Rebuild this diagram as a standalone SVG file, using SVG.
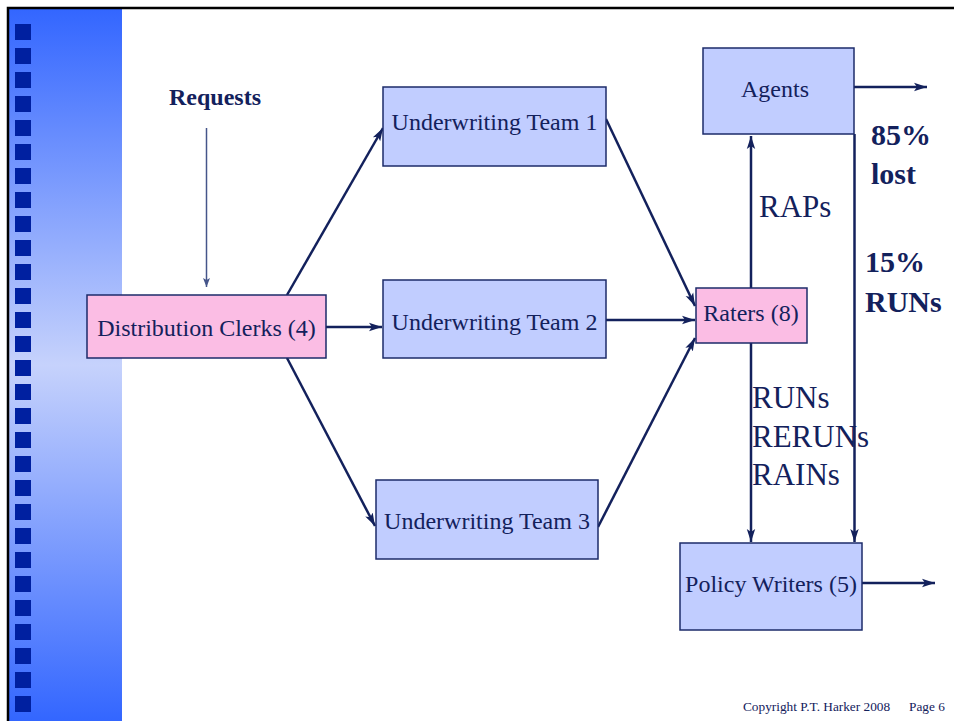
<svg xmlns="http://www.w3.org/2000/svg" width="954" height="721" viewBox="0 0 954 721">
<defs>
<linearGradient id="side" x1="0" y1="0" x2="0" y2="1">
<stop offset="0" stop-color="#3366ff"/>
<stop offset="0.5" stop-color="#c6d2fc"/>
<stop offset="1" stop-color="#3366ff"/>
</linearGradient>
<marker id="ah" markerUnits="userSpaceOnUse" markerWidth="14" markerHeight="10" viewBox="0 0 14 10" refX="13" refY="5" orient="auto">
<path d="M0,0.8 L13,5 L0,9.2 L3,5 Z" fill="#13215c"/>
</marker>
<marker id="ahs" markerUnits="userSpaceOnUse" markerWidth="10" markerHeight="10" viewBox="0 0 10 10" refX="9" refY="5" orient="auto">
<path d="M0,1.5 L9,5 L0,8.5 L2,5 Z" fill="#45558a"/>
</marker>
<style>
.box{fill:#c1cdff;stroke:#1c2b6a;stroke-width:1.5}
.pink{fill:#fbbde4;stroke:#1c2b6a;stroke-width:1.5}
.t{font-family:"Liberation Serif","Times New Roman",serif;fill:#13215c}
.c{text-anchor:middle;font-size:24px}
.b{font-weight:bold}
.conn line{stroke:#13215c;stroke-width:2.5;marker-end:url(#ah)}
.sq{fill:#0020a0}
</style>
</defs>
<rect width="954" height="721" fill="#ffffff"/>
<rect x="9" y="9" width="113" height="712" fill="url(#side)"/>
<path d="M8,721 V8 H954" fill="none" stroke="#000" stroke-width="2.5"/>
<g id="bullets">
<rect class="sq" x="15" y="24" width="16" height="16"/><rect class="sq" x="15" y="48" width="16" height="16"/><rect class="sq" x="15" y="72" width="16" height="16"/><rect class="sq" x="15" y="96" width="16" height="16"/><rect class="sq" x="15" y="120" width="16" height="16"/><rect class="sq" x="15" y="144" width="16" height="16"/><rect class="sq" x="15" y="168" width="16" height="16"/><rect class="sq" x="15" y="192" width="16" height="16"/><rect class="sq" x="15" y="216" width="16" height="16"/><rect class="sq" x="15" y="240" width="16" height="16"/><rect class="sq" x="15" y="264" width="16" height="16"/><rect class="sq" x="15" y="288" width="16" height="16"/><rect class="sq" x="15" y="312" width="16" height="16"/><rect class="sq" x="15" y="336" width="16" height="16"/><rect class="sq" x="15" y="360" width="16" height="16"/><rect class="sq" x="15" y="384" width="16" height="16"/><rect class="sq" x="15" y="408" width="16" height="16"/><rect class="sq" x="15" y="432" width="16" height="16"/><rect class="sq" x="15" y="456" width="16" height="16"/><rect class="sq" x="15" y="480" width="16" height="16"/><rect class="sq" x="15" y="504" width="16" height="16"/><rect class="sq" x="15" y="528" width="16" height="16"/><rect class="sq" x="15" y="552" width="16" height="16"/><rect class="sq" x="15" y="576" width="16" height="16"/><rect class="sq" x="15" y="600" width="16" height="16"/><rect class="sq" x="15" y="624" width="16" height="16"/><rect class="sq" x="15" y="648" width="16" height="16"/><rect class="sq" x="15" y="672" width="16" height="16"/><rect class="sq" x="15" y="696" width="16" height="16"/>
</g>
<g id="connectors" class="conn">
<line x1="206.5" y1="128" x2="206.5" y2="287" style="stroke:#45558a;stroke-width:1.5;marker-end:url(#ahs)"/>
<line x1="287" y1="295" x2="383" y2="128"/>
<line x1="326" y1="327" x2="382" y2="327"/>
<line x1="287" y1="358" x2="375" y2="526"/>
<line x1="606" y1="119" x2="695" y2="306"/>
<line x1="606" y1="320" x2="695" y2="320"/>
<line x1="598" y1="527" x2="695" y2="338"/>
<line x1="751" y1="288" x2="751" y2="136"/>
<line x1="751" y1="343" x2="751" y2="542"/>
<line x1="854.5" y1="134" x2="854.5" y2="542"/>
<line x1="854" y1="87" x2="927" y2="87"/>
<line x1="862" y1="583" x2="935" y2="583"/>
</g>
<g id="requests"><text class="t c b" x="215" y="105">Requests</text></g>
<g id="clerks"><rect class="pink" x="87" y="295" width="239" height="63"/><text class="t c" x="206.5" y="336">Distribution Clerks (4)</text></g>
<g id="uw1"><rect class="box" x="383" y="87" width="223" height="79"/><text class="t c" x="494.5" y="130">Underwriting Team 1</text></g>
<g id="uw2"><rect class="box" x="383" y="280" width="223" height="78"/><text class="t c" x="494.5" y="330">Underwriting Team 2</text></g>
<g id="uw3"><rect class="box" x="376" y="480" width="222" height="79"/><text class="t c" x="487" y="529">Underwriting Team 3</text></g>
<g id="raters"><rect class="pink" x="696" y="288" width="111" height="55"/><text class="t c" x="751" y="321">Raters (8)</text></g>
<g id="agents"><rect class="box" x="703" y="48" width="151" height="86"/><text class="t c" x="775" y="97">Agents</text></g>
<g id="writers"><rect class="box" x="680" y="543" width="182" height="87"/><text class="t c" x="771" y="592">Policy Writers (5)</text></g>
<g id="labels">
<text class="t" x="759" y="217" font-size="31">RAPs</text>
<text class="t" x="752" y="408" font-size="31">RUNs</text>
<text class="t" x="752" y="447" font-size="31">RERUNs</text>
<text class="t" x="752" y="485" font-size="31">RAINs</text>
<text class="t b" x="871" y="145" font-size="30">85%</text>
<text class="t b" x="871" y="184" font-size="30">lost</text>
<text class="t b" x="865" y="272" font-size="30">15%</text>
<text class="t b" x="865" y="312" font-size="30">RUNs</text>
<text class="t" x="743" y="711" font-size="13.3">Copyright P.T. Harker 2008</text>
<text class="t" x="909" y="711" font-size="13.3">Page 6</text>
</g>
</svg>
